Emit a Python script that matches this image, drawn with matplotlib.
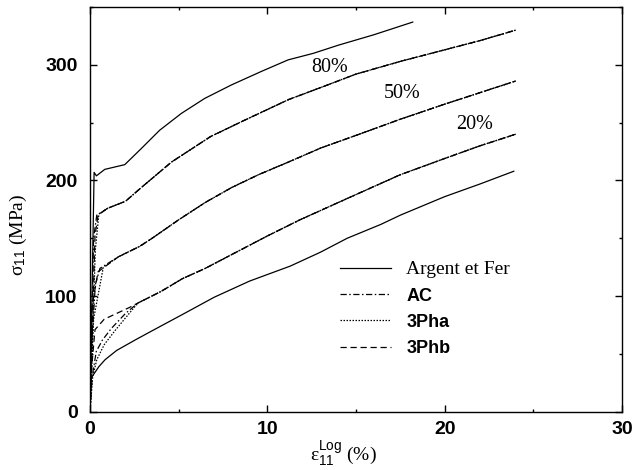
import matplotlib
matplotlib.use("Agg")
import matplotlib.pyplot as plt
import numpy as np
from matplotlib.ticker import MultipleLocator

plt.rcParams['font.family'] = ['Liberation Serif', 'DejaVu Serif']
plt.rcParams['mathtext.fontset'] = 'custom'
plt.rcParams['mathtext.rm'] = 'Liberation Serif'
plt.rcParams['mathtext.sf'] = 'Liberation Sans'
plt.rcParams['mathtext.it'] = 'Liberation Serif:italic'

# pure phases (solid lines)
fer_x = [0, 0.23, 0.36, 0.83, 1.96, 2.89, 3.93, 5.15, 6.47, 7.97, 9.66, 11.17, 12.6, 14.0, 16.0, 18.2]
fer_y = [0, 207, 204, 209.6, 213.7, 227.6, 243.5, 258, 271, 282.6, 294.3, 304.3, 310, 317, 326, 337]
argent_x = [0, 0.02, 0.1, 0.5, 0.85, 1.5, 2.54, 3.5, 5.2, 7.0, 9.0, 11.3, 13.0, 14.5, 16.4, 17.5, 20.0, 22.0, 23.9]
argent_y = [0, 25, 30, 39, 45, 53, 62, 70, 84, 99, 113, 126, 138, 150, 162, 170, 186, 197, 208]

# composites: common tail shared by the three models
c80_x = [1.0, 2.0, 2.9, 4.6, 6.8, 8.7, 11.2, 12.6, 15.0, 17.5, 20.0, 22.0, 24.0]
c80_y = [176, 182, 194, 216, 238, 252, 270, 278, 292, 303, 313, 321, 330]
c50_x = [1.6, 2.8, 3.5, 5.0, 6.5, 8.0, 9.5, 11.2, 13.0, 15.0, 17.5, 20.0, 22.0, 24.0]
c50_y = [134, 143, 150, 166, 181, 194, 205, 216, 228, 239, 253, 266, 276, 286]
c20_x = [2.7, 4.0, 5.2, 6.5, 8.0, 10.0, 11.84, 14.3, 17.5, 20.0, 22.0, 24.0]
c20_y = [94, 104, 115, 124, 136, 152, 166, 183, 205, 219, 230, 240]

# start of each curve (before the common tail), per model
heads = {
    '80': {'AC': ([0, 0.2, 0.38], [0, 150, 170]),
           '3Pha': ([0, 0.3, 0.5], [0, 140, 171]),
           '3Phb': ([0, 0.28, 0.45], [0, 152, 170])},
    '50': {'AC': ([0, 0.1, 0.3, 0.56], [0, 60, 110, 124]),
           '3Pha': ([0, 0.2, 0.75], [0, 80, 125]),
           '3Phb': ([0, 0.1, 0.45], [0, 90, 121])},
    '20': {'AC': ([0, 0.12, 0.35, 0.7, 1.2, 2.0], [0, 30, 52, 62, 72, 85]),
           '3Pha': ([0, 0.15, 0.38, 0.8, 1.4, 2.1], [0, 30, 45, 58, 70, 83]),
           '3Phb': ([0, 0.1, 0.28, 0.8, 1.5, 2.2], [0, 40, 71, 80, 85, 90])},
}
tails = {'80': (c80_x, c80_y), '50': (c50_x, c50_y), '20': (c20_x, c20_y)}
styles = {'AC': (0, (5, 2, 1.2, 2)), '3Pha': (0, (1.2, 1.2)), '3Phb': (0, (5, 3))}

fig = plt.figure(figsize=(6.34, 4.70), dpi=100)
ax = fig.add_axes([0.142, 0.124, 0.839, 0.861])

ax.plot(argent_x, argent_y, color='black', lw=0.9, label='Argent et Fer')
ax.plot(fer_x, fer_y, color='black', lw=0.9)

for g in ['80', '50', '20']:
    for m in ['AC', '3Pha', '3Phb']:
        hx, hy = heads[g][m]
        tx, ty = tails[g]
        ax.plot(list(hx) + list(tx), list(hy) + list(ty), color='black', lw=0.9,
                linestyle=styles[m], label=m if g == '80' else None)

ax.text(13.54, 298, '80%', fontsize=14.5, ha='center', va='center')
ax.text(17.63, 275, '50%', fontsize=14.5, ha='center', va='center')
ax.text(21.7, 248, '20%', fontsize=14.5, ha='center', va='center')

ax.set_xlim(0, 30)
ax.set_ylim(0, 350)
ax.xaxis.set_major_locator(MultipleLocator(10))
ax.xaxis.set_minor_locator(MultipleLocator(5))
ax.yaxis.set_major_locator(MultipleLocator(100))
ax.yaxis.set_minor_locator(MultipleLocator(50))
ax.tick_params(which='both', direction='in', top=True, right=True, width=1)
ax.tick_params(which='major', length=5)
ax.tick_params(which='minor', length=2.5)
ax.tick_params(axis='x', pad=7)
ax.tick_params(axis='y', pad=9)
for s in ax.spines.values():
    s.set_linewidth(1)

fig.canvas.draw()
for lab in ax.get_xticklabels() + ax.get_yticklabels():
    lab.set_fontfamily('Liberation Sans')
    lab.set_fontweight('bold')
    lab.set_fontsize(14)

ax.set_ylabel(r'$\mathrm{\sigma}_{\mathsf{11}}$ (MPa)', fontsize=14)
ax.yaxis.set_label_coords(-0.115, 0.437)
ax.set_xlabel(r'$\mathrm{\varepsilon}_{\mathsf{11}}^{\mathsf{Log}}$ (%)', fontsize=14)
ax.xaxis.set_label_coords(0.477, -0.068)

leg = ax.legend(loc='upper left', bbox_to_anchor=(0.47, 0.373), frameon=False,
                borderpad=0, borderaxespad=0, handlelength=2.6, handletextpad=0.8,
                labelspacing=0.45, fontsize=14)
for i, t in enumerate(leg.get_texts()):
    if i == 0:
        t.set_fontfamily('Liberation Serif')
    else:
        t.set_fontfamily('Liberation Sans')
        t.set_fontweight('bold')
        t.set_fontsize(13)

fig.savefig('out.png', dpi=100)
